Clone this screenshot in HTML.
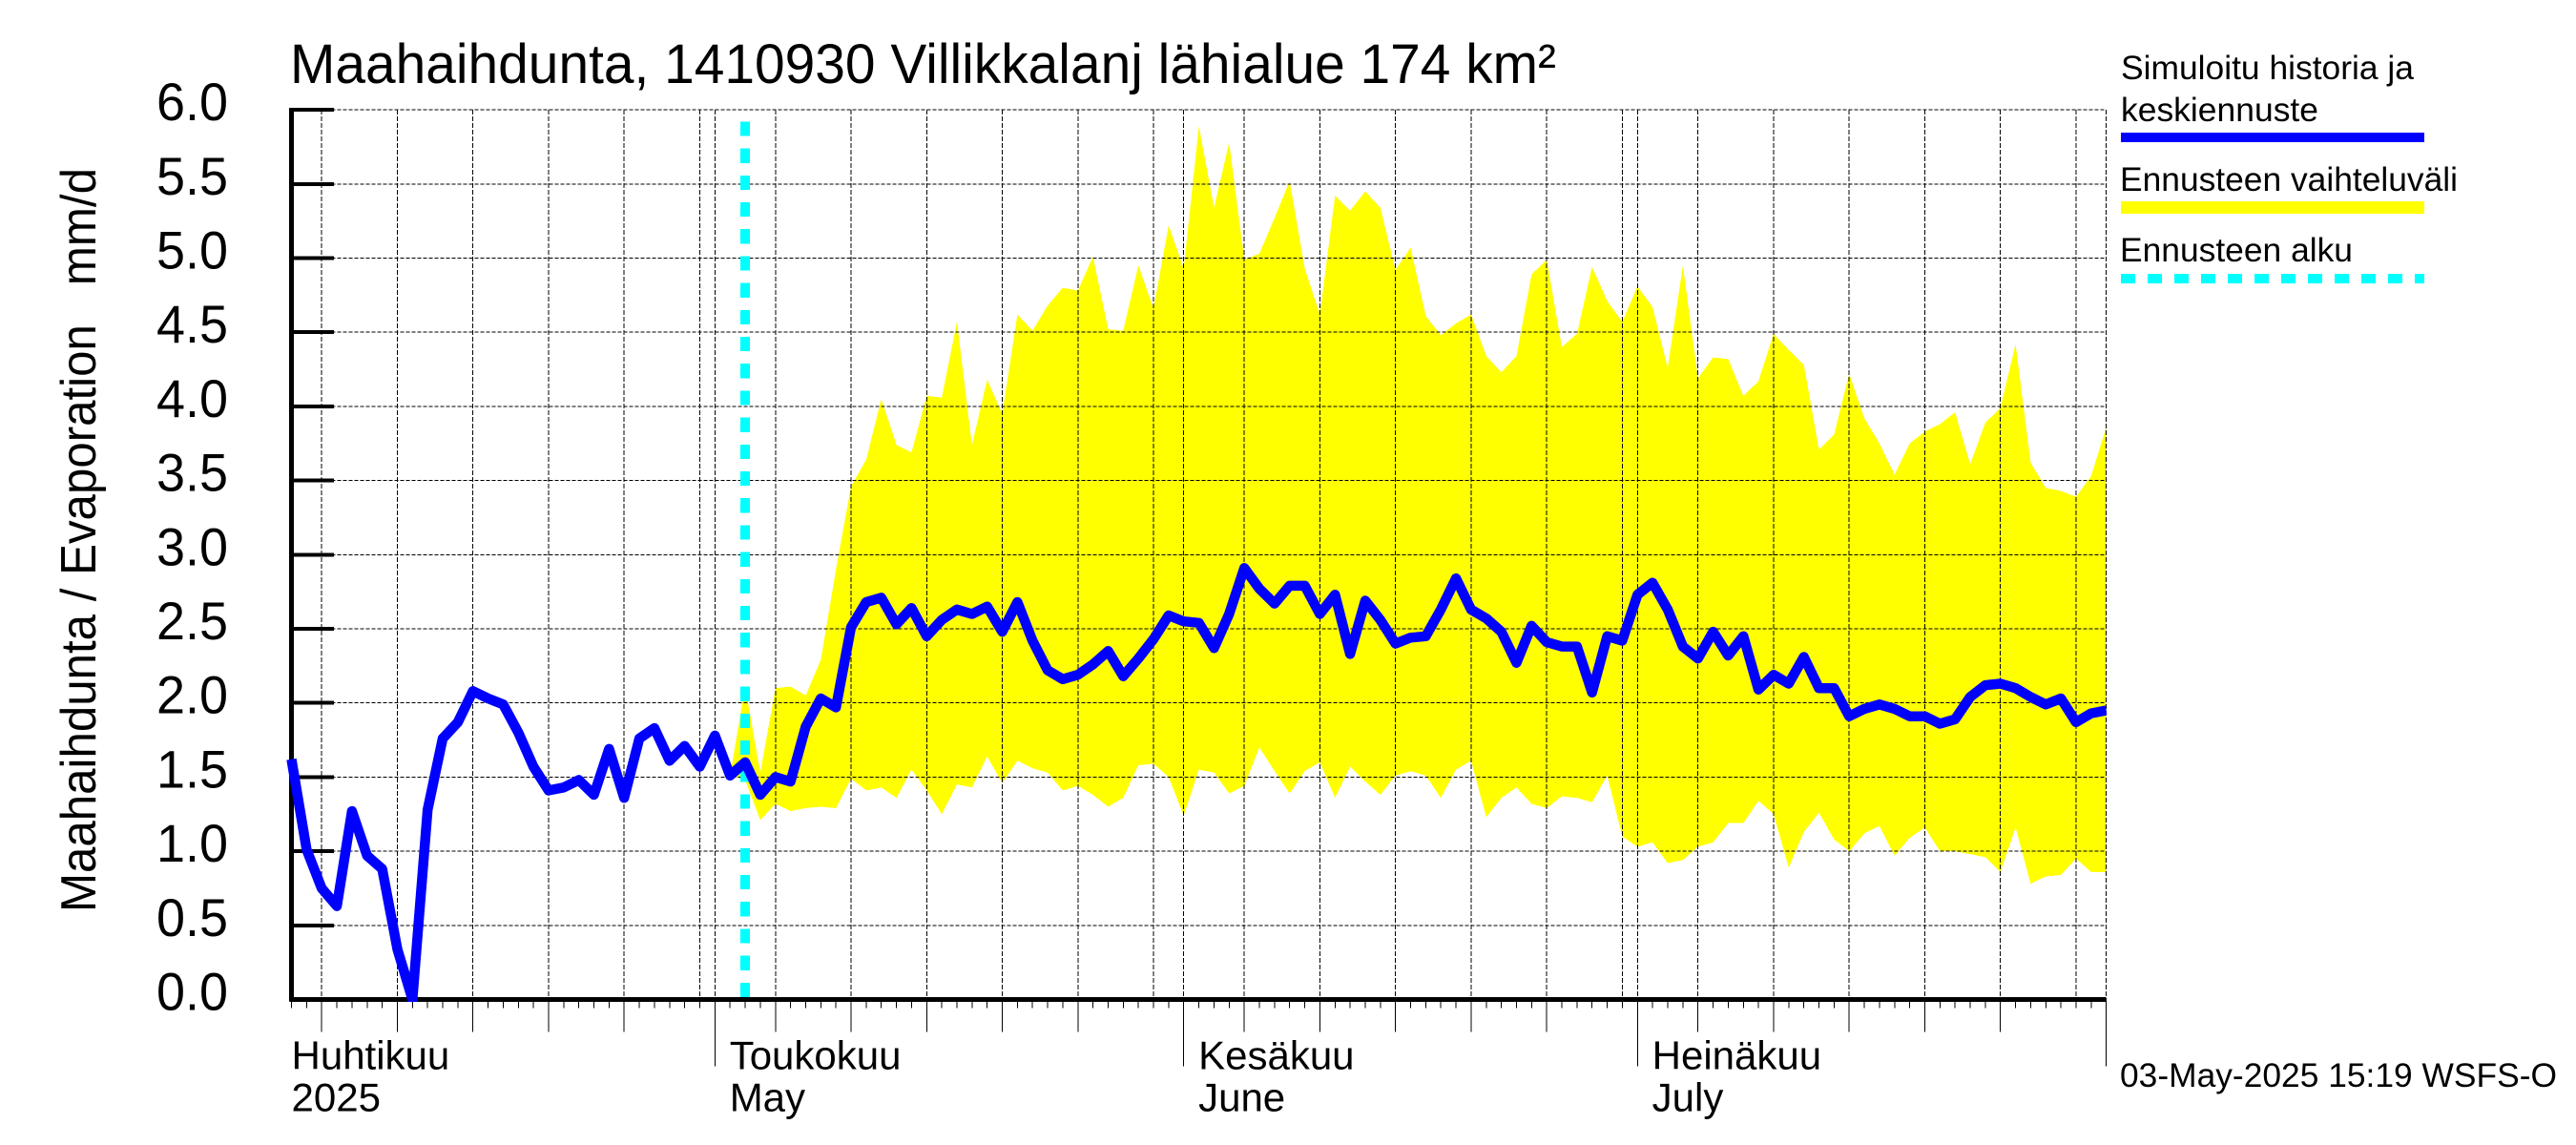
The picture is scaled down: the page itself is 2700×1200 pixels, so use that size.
<!DOCTYPE html>
<html lang="fi">
<head>
<meta charset="utf-8">
<title>Maahaihdunta, 1410930 Villikkalanj lähialue 174 km²</title>
<style>
html,body{margin:0;padding:0;background:#fff;}
svg{display:block;}
text{font-family:"Liberation Sans",Arial,sans-serif;fill:#000;white-space:pre;}
</style>
</head>
<body>
<svg id="chart" width="2700" height="1200" viewBox="0 0 2700 1200" xmlns="http://www.w3.org/2000/svg">
  <defs>
    <clipPath id="plot-clip"><rect x="296" y="100" width="1912" height="950"/></clipPath>
  </defs>
  <rect x="0" y="0" width="2700" height="1200" fill="#fff"/>
  <g id="band-layer"></g>
  <g id="grid-layer"></g>
  <g id="axis-layer"></g>
  <g id="start-layer"></g>
  <g id="line-layer" clip-path="url(#plot-clip)"></g>

  <text x="304" y="87" font-size="58" textLength="1327" lengthAdjust="spacingAndGlyphs">Maahaihdunta, 1410930 Villikkalanj lähialue 174 km²</text>
  <text transform="translate(100,956) rotate(-90)" font-size="52" textLength="780" lengthAdjust="spacingAndGlyphs">Maahaihdunta / Evaporation   mm/d</text>

  <g>
    <text x="2223" y="83" font-size="35" textLength="307" lengthAdjust="spacingAndGlyphs">Simuloitu historia ja</text>
    <text x="2223" y="127" font-size="35" textLength="207" lengthAdjust="spacingAndGlyphs">keskiennuste</text>
    <rect x="2223" y="139" width="318" height="10" fill="#0000ff"/>
    <text x="2222" y="200" font-size="35" textLength="354" lengthAdjust="spacingAndGlyphs">Ennusteen vaihteluväli</text>
    <rect x="2223" y="211" width="318" height="13" fill="#ffff00"/>
    <text x="2222" y="274" font-size="35" textLength="244" lengthAdjust="spacingAndGlyphs">Ennusteen alku</text>
    <line x1="2223" y1="292" x2="2541" y2="292" stroke="#00ffff" stroke-width="10" stroke-dasharray="15 13"/>
  </g>

  <text x="2222" y="1139" font-size="35" textLength="458" lengthAdjust="spacingAndGlyphs">03-May-2025 15:19 WSFS-O</text>
</svg>

<script>
// Y axis tick labels (mm/d)
const yTickValues = [0, 0.5, 1, 1.5, 2, 2.5, 3, 3.5, 4, 4.5, 5, 5.5, 6];

// X axis: days counted from the first day of the axis
const axisStartYear = 2025;
const axisStartMonth = 3;
const axisStartDay = 3;
const axisDayCount = 120;
const forecastStartDay = 30;
const bandFirstDay = 29;

// Month labels
const monthLabelDays = [0, 29, 60, 90];
const monthLabelsFi = ["Huhtikuu", "Toukokuu", "Kesäkuu", "Heinäkuu"];
const monthLabelsEn = ["2025", "May", "June", "July"];

// Simulated history and mean forecast, one value per day
const simulatedValues = [
  1.62,1.01,0.75,0.63,1.27,0.97,0.88,0.34,0.00,1.28,
  1.76,1.87,2.08,2.03,1.99,1.80,1.57,1.41,1.43,1.48,
  1.38,1.69,1.36,1.76,1.83,1.61,1.71,1.57,1.78,1.51,
  1.60,1.38,1.50,1.47,1.84,2.03,1.97,2.51,2.68,2.71,
  2.53,2.64,2.45,2.56,2.63,2.60,2.65,2.48,2.68,2.42,
  2.22,2.16,2.19,2.26,2.35,2.18,2.30,2.43,2.59,2.55,
  2.54,2.37,2.60,2.91,2.77,2.67,2.79,2.79,2.60,2.73,
  2.33,2.69,2.56,2.40,2.44,2.45,2.63,2.84,2.63,2.57,
  2.48,2.27,2.52,2.41,2.38,2.38,2.07,2.45,2.42,2.73,
  2.81,2.63,2.38,2.30,2.48,2.32,2.45,2.09,2.19,2.13,
  2.31,2.10,2.10,1.91,1.96,1.99,1.96,1.91,1.91,1.86,
  1.89,2.04,2.12,2.13,2.10,2.04,1.99,2.03,1.87,1.93,
  1.95
];

// Forecast range upper edge, starting at bandFirstDay
const bandUpperValues = [
  1.51,2.11,1.53,2.10,2.11,2.05,2.29,2.90,3.46,3.64,
  4.05,3.74,3.69,4.07,4.06,4.57,3.74,4.18,3.95,4.62,
  4.51,4.68,4.80,4.78,5.01,4.52,4.51,4.95,4.66,5.22,
  4.93,5.89,5.34,5.78,4.99,5.03,5.27,5.52,4.93,4.62,
  5.42,5.32,5.45,5.34,4.92,5.07,4.61,4.48,4.56,4.62,
  4.34,4.23,4.34,4.89,4.99,4.40,4.49,4.94,4.71,4.57,
  4.81,4.67,4.26,4.95,4.19,4.33,4.32,4.07,4.17,4.49,
  4.38,4.28,3.71,3.81,4.22,3.92,3.75,3.54,3.75,3.83,
  3.88,3.96,3.61,3.89,3.99,4.42,3.62,3.45,3.43,3.39,
  3.53,3.86
];

// Forecast range lower edge, starting at bandFirstDay
const bandLowerValues = [
  1.51,1.48,1.21,1.32,1.27,1.29,1.30,1.29,1.49,1.41,
  1.43,1.36,1.55,1.41,1.25,1.45,1.43,1.64,1.46,1.61,
  1.56,1.53,1.41,1.44,1.38,1.30,1.36,1.58,1.59,1.50,
  1.24,1.55,1.53,1.39,1.44,1.70,1.54,1.39,1.54,1.60,
  1.36,1.57,1.47,1.38,1.51,1.54,1.51,1.36,1.55,1.61,
  1.23,1.36,1.43,1.32,1.29,1.37,1.36,1.33,1.51,1.10,
  1.03,1.06,0.92,0.94,1.03,1.06,1.19,1.19,1.34,1.25,
  0.89,1.13,1.26,1.08,1.00,1.12,1.17,0.97,1.09,1.16,
  1.00,1.00,0.98,0.96,0.86,1.16,0.78,0.83,0.84,0.95,
  0.86,0.86
];

const SVG_NS = "http://www.w3.org/2000/svg";
const plotLeft = 305.5;
const plotRight = 2207.7;
const plotTop = 115.1;
const plotBottom = 1047.5;
const yMax = 6;

function xScale(day) {
  return plotLeft + (plotRight - plotLeft) * day / axisDayCount;
}
function yScale(value) {
  return plotBottom - (plotBottom - plotTop) * value / yMax;
}
function make(tag, parent) {
  const el = document.createElementNS(SVG_NS, tag);
  parent.appendChild(el);
  return el;
}
function dateOfDay(day) {
  return new Date(Date.UTC(axisStartYear, axisStartMonth, axisStartDay + day)).getUTCDate();
}

const bandLayer = document.getElementById("band-layer");
const gridLayer = document.getElementById("grid-layer");
const axisLayer = document.getElementById("axis-layer");
const startLayer = document.getElementById("start-layer");
const lineLayer = document.getElementById("line-layer");

// Forecast range polygon
const upperPoints = bandUpperValues.map(function (v, i) {
  return xScale(bandFirstDay + i).toFixed(1) + "," + yScale(v).toFixed(1);
});
const lowerPoints = bandLowerValues.map(function (v, i) {
  return xScale(bandFirstDay + i).toFixed(1) + "," + yScale(v).toFixed(1);
}).reverse();
const band = make("polygon", bandLayer);


band.setAttribute("points", upperPoints.concat(lowerPoints).join(" "));
band.setAttribute("fill", "#ffff00");
band.setAttribute("shape-rendering", "crispEdges");

// Horizontal grid lines, y ticks and y labels
yTickValues.forEach(function (v) {
  const y = yScale(v);
  const grid = make("line", gridLayer);
  
  
  grid.setAttribute("x1", plotLeft);
  grid.setAttribute("x2", plotRight);
  grid.setAttribute("y1", y);
  grid.setAttribute("y2", y);
  grid.setAttribute("stroke", "#000");
  grid.setAttribute("stroke-width", "1");
  grid.setAttribute("stroke-dasharray", "4 2");
  grid.setAttribute("shape-rendering", "crispEdges");

  const tick = make("line", axisLayer);
  
  
  tick.setAttribute("x1", plotLeft);
  tick.setAttribute("x2", 350);
  tick.setAttribute("y1", y);
  tick.setAttribute("y2", y);
  tick.setAttribute("stroke", "#000");
  tick.setAttribute("stroke-width", "4");
  tick.setAttribute("shape-rendering", "crispEdges");

  const label = make("text", axisLayer);
  
  
  label.setAttribute("x", 239);
  label.setAttribute("y", y + 11);
  label.setAttribute("font-size", "56");
  label.setAttribute("text-anchor", "end");
  label.setAttribute("textLength", "75");
  label.setAttribute("lengthAdjust", "spacingAndGlyphs");
  label.textContent = v.toFixed(1);
});

// Vertical grid lines and day ticks
for (let d = 0; d <= axisDayCount; d++) {
  const x = xScale(d);
  const date = dateOfDay(d);
  const isMonth = date === 1;
  const isGrid = isMonth || date % 5 === 0;
  const isMajor = isGrid && date !== 30;
  if (isGrid) {
    const grid = make("line", gridLayer);
    
    
    grid.setAttribute("x1", x);
    grid.setAttribute("x2", x);
    grid.setAttribute("y1", plotTop);
    grid.setAttribute("y2", plotBottom);
    grid.setAttribute("stroke", "#000");
    grid.setAttribute("stroke-width", "1");
    grid.setAttribute("stroke-dasharray", "5 2");
    grid.setAttribute("shape-rendering", "crispEdges");
  }
  const tick = make("line", axisLayer);
  
  
  tick.setAttribute("x1", x);
  tick.setAttribute("x2", x);
  tick.setAttribute("y1", plotBottom);
  tick.setAttribute("y2", isMonth ? 1117.5 : (isMajor ? 1081.7 : 1056.7));
  tick.setAttribute("stroke", "#000");
  tick.setAttribute("stroke-width", "1");
  tick.setAttribute("shape-rendering", "crispEdges");
}

// Axis lines
const yAxis = make("line", axisLayer);


yAxis.setAttribute("x1", plotLeft);
yAxis.setAttribute("x2", plotLeft);
yAxis.setAttribute("y1", plotTop - 2);
yAxis.setAttribute("y2", plotBottom + 2);
yAxis.setAttribute("stroke", "#000");
yAxis.setAttribute("stroke-width", "5");
yAxis.setAttribute("shape-rendering", "crispEdges");

const xAxis = make("line", axisLayer);


xAxis.setAttribute("x1", plotLeft - 2);
xAxis.setAttribute("x2", plotRight);
xAxis.setAttribute("y1", plotBottom);
xAxis.setAttribute("y2", plotBottom);
xAxis.setAttribute("stroke", "#000");
xAxis.setAttribute("stroke-width", "5");
xAxis.setAttribute("shape-rendering", "crispEdges");

// Month labels
monthLabelDays.forEach(function (day, i) {
  const x = xScale(day) - (i === 0 ? 0 : 0.5);
  const top = make("text", axisLayer);
  
  
  top.setAttribute("x", x);
  top.setAttribute("y", 1120.5);
  top.setAttribute("font-size", "42");
  top.textContent = monthLabelsFi[i];

  const bottom = make("text", axisLayer);
  
  
  bottom.setAttribute("x", x);
  bottom.setAttribute("y", 1164.5);
  bottom.setAttribute("font-size", "42");
  bottom.textContent = monthLabelsEn[i];
});

// Forecast start marker
const startLine = make("line", startLayer);


startLine.setAttribute("x1", xScale(forecastStartDay));
startLine.setAttribute("x2", xScale(forecastStartDay));
startLine.setAttribute("y1", 127.4);
startLine.setAttribute("y2", plotBottom);
startLine.setAttribute("stroke", "#00ffff");
startLine.setAttribute("stroke-width", "10");
startLine.setAttribute("stroke-dasharray", "15.2 13");
startLine.setAttribute("shape-rendering", "crispEdges");

// Simulated line
const simLine = make("polyline", lineLayer);


simLine.setAttribute("points", simulatedValues.map(function (v, i) {
  return xScale(i).toFixed(1) + "," + yScale(v).toFixed(1);
}).join(" "));
simLine.setAttribute("fill", "none");
simLine.setAttribute("stroke", "#0000ff");
simLine.setAttribute("stroke-width", "10.5");
simLine.setAttribute("stroke-linejoin", "round");
</script>
</body>
</html>
